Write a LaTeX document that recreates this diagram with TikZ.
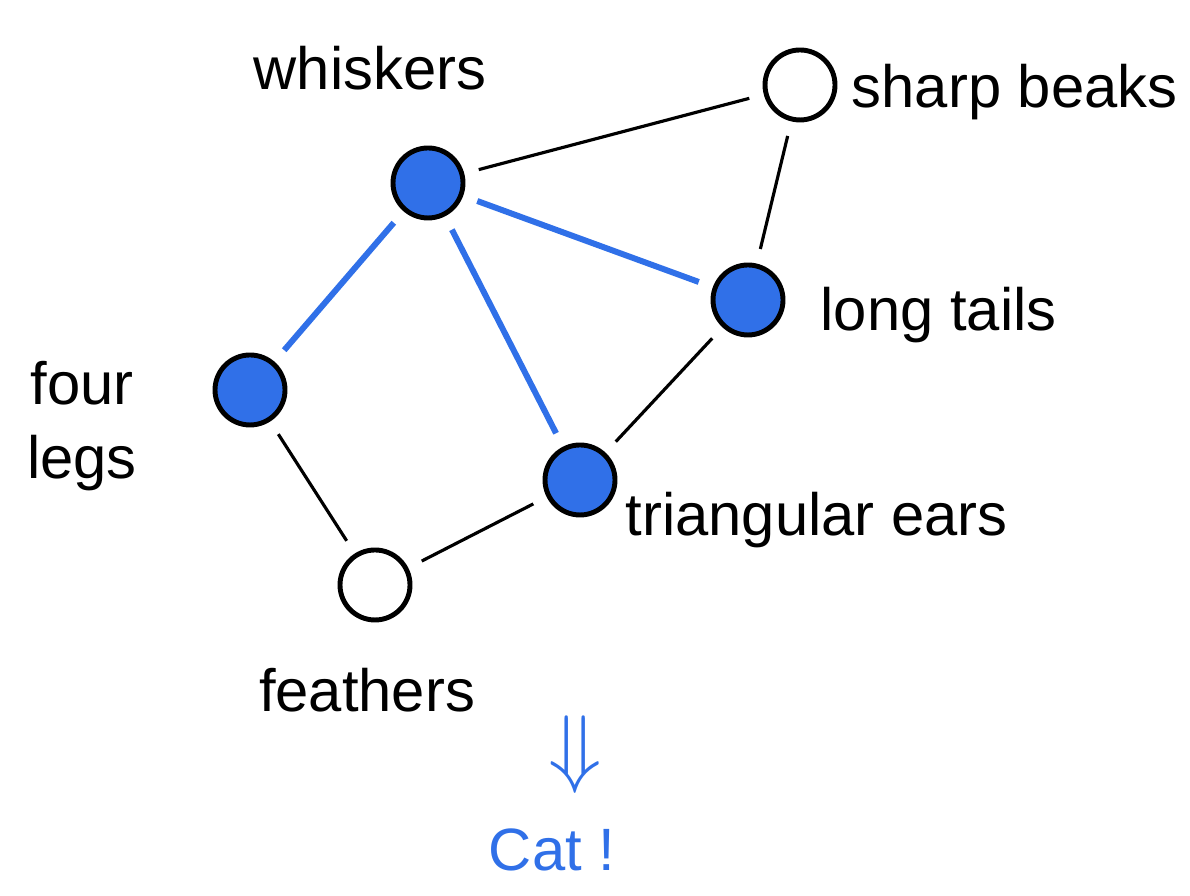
\documentclass[tikz,border=0pt]{standalone}
\usepackage{fontspec}
\usepackage{xcolor}
\usepackage{tikz}
\setmainfont{Liberation Sans}
\definecolor{sketchblue}{RGB}{48,112,232}

\begin{document}
\begin{tikzpicture}[
  feat/.style={circle, draw, line width=1.4pt, minimum size=7mm, inner sep=0pt},
  hit/.style={feat, fill=sketchblue},
  lbl/.style={font=\fontsize{17}{21}\selectfont, align=center, inner sep=0pt},
  edge/.style={line width=0.9pt, shorten <=1.5mm, shorten >=1.5mm},
  match/.style={edge, draw=sketchblue, line width=1.7pt}]
\useasboundingbox (0,0) rectangle (11.9,8.96);
% feature nodes
\node[hit] (whiskers) at (4.28,7.13) {};
\node[feat] (beaks) at (8.00,8.11) {};
\node[hit] (tails) at (7.48,5.96) {};
\node[hit] (legs) at (2.50,5.06) {};
\node[hit] (ears) at (5.80,4.16) {};
\node[feat] (feathers) at (3.75,3.11) {};
% labels
\node[lbl] (whiskerslbl) at (3.70,8.28) {whiskers};
\node[lbl, anchor=east] (beakslbl) at (11.78,8.04) {sharp beaks};
\node[lbl, anchor=west] (tailslbl) at (8.20,5.81) {long tails};
\node[lbl] (legslbl) at (0.82,4.70) {four\\legs};
\node[lbl, anchor=west] (earslbl) at (6.25,3.76) {triangular ears};
\node[lbl] (featherslbl) at (3.67,2.06) {feathers};
\node[lbl, font=\fontsize{24}{28}\selectfont, text=sketchblue] (implies) at (5.75,1.41) {$\Downarrow$};
\node[lbl, text=sketchblue] (cat) at (5.52,0.46) {Cat !};
% connections
\draw[edge] (whiskers) -- (beaks);
\draw[edge] (beaks) -- (tails);
\draw[edge] (tails) -- (ears);
\draw[edge] (legs) -- (feathers);
\draw[edge] (feathers) -- (ears);
\draw[match] (whiskers) -- (tails);
\draw[match] (whiskers) -- (legs);
\draw[match] (whiskers) -- (ears);
\end{tikzpicture}
\end{document}
